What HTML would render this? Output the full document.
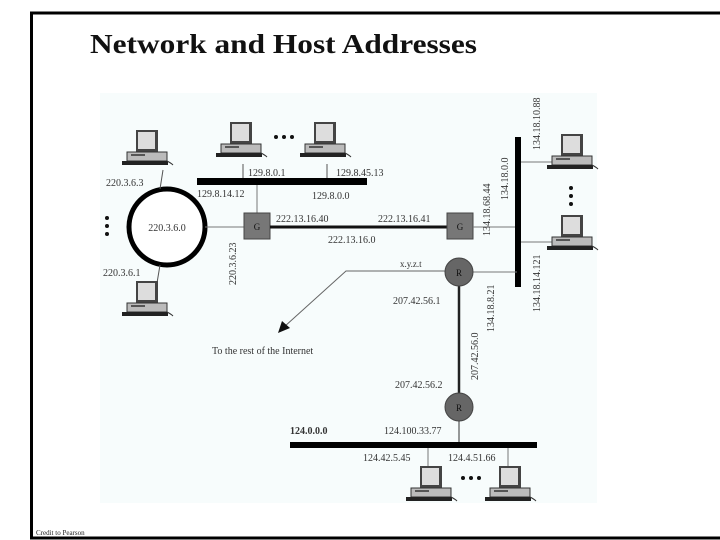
<!DOCTYPE html>
<html><head><meta charset="utf-8"><style>
html,body{margin:0;padding:0;background:#fff;width:720px;height:540px;overflow:hidden}
svg{display:block}
text{font-family:"Liberation Serif",serif;fill:#333}
</style></head><body>
<svg width="720" height="540" viewBox="0 0 720 540" xmlns="http://www.w3.org/2000/svg">
<defs>
<g id="pc">
  <rect x="-10" y="-2" width="22" height="22" fill="#444"/>
  <rect x="-8" y="0" width="17" height="17" fill="#ddd"/>
  <rect x="-19" y="20" width="40" height="9" fill="#bbb" stroke="#333" stroke-width="1"/>
  <rect x="-15" y="22" width="14" height="2" fill="#555"/>
  <rect x="-24" y="29" width="46" height="4" fill="#222"/>
  <path d="M21 29 q4 2 6 4" stroke="#333" fill="none"/>
</g>
</defs>
<rect x="31.5" y="13" width="700" height="525" fill="none" stroke="#000" stroke-width="3"/>
<text x="90" y="53" font-size="27" font-weight="bold" textLength="387" lengthAdjust="spacingAndGlyphs" style="fill:#111">Network and Host Addresses</text>
<rect x="100" y="93" width="497" height="410" fill="#f7fcfc"/>

<!-- ring -->
<circle cx="167" cy="227" r="38" fill="#fff" stroke="#000" stroke-width="5"/>
<text x="167" y="231" font-size="10" text-anchor="middle">220.3.6.0</text>
<line x1="163" y1="170" x2="160" y2="189" stroke="#555"/>
<line x1="160" y1="265" x2="157" y2="283" stroke="#555"/>
<use href="#pc" x="146" y="132"/>
<use href="#pc" x="146" y="283"/>
<text x="106" y="186" font-size="10">220.3.6.3</text>
<text x="103" y="276" font-size="10">220.3.6.1</text>
<circle cx="107" cy="218" r="2" fill="#111"/>
<circle cx="107" cy="226" r="2" fill="#111"/>
<circle cx="107" cy="234" r="2" fill="#111"/>

<!-- top bus -->
<rect x="197" y="178" width="170" height="7" fill="#000"/>
<line x1="243" y1="164" x2="243" y2="178" stroke="#555"/>
<line x1="327" y1="164" x2="327" y2="178" stroke="#555"/>
<use href="#pc" x="240" y="124"/>
<use href="#pc" x="324" y="124"/>
<circle cx="276" cy="137" r="2" fill="#111"/>
<circle cx="284" cy="137" r="2" fill="#111"/>
<circle cx="292" cy="137" r="2" fill="#111"/>
<text x="248" y="176" font-size="10">129.8.0.1</text>
<text x="336" y="176" font-size="10">129.8.45.13</text>
<text x="197" y="197" font-size="10">129.8.14.12</text>
<text x="312" y="199" font-size="10">129.8.0.0</text>

<!-- G1 -->
<line x1="257" y1="185" x2="257" y2="213" stroke="#777"/>
<line x1="205" y1="227" x2="244" y2="227" stroke="#777"/>
<rect x="244" y="213" width="26" height="26" fill="#777" stroke="#444"/>
<text x="257" y="230" font-size="9" text-anchor="middle" style="fill:#111">G</text>
<text transform="translate(236,285) rotate(-90)" font-size="10">220.3.6.23</text>
<line x1="270" y1="227" x2="447" y2="227" stroke="#111" stroke-width="3"/>
<text x="276" y="222" font-size="10">222.13.16.40</text>
<text x="378" y="222" font-size="10">222.13.16.41</text>
<text x="328" y="243" font-size="10">222.13.16.0</text>

<!-- G2 -->
<rect x="447" y="213" width="26" height="26" fill="#777" stroke="#444"/>
<text x="460" y="230" font-size="9" text-anchor="middle" style="fill:#111">G</text>
<line x1="473" y1="227" x2="517" y2="227" stroke="#777"/>

<!-- right bus -->
<rect x="515" y="137" width="6" height="150" fill="#000"/>
<text transform="translate(490,236) rotate(-90)" font-size="10">134.18.68.44</text>
<text transform="translate(508,200) rotate(-90)" font-size="10">134.18.0.0</text>
<text transform="translate(540,150) rotate(-90)" font-size="10">134.18.10.88</text>
<text transform="translate(540,312) rotate(-90)" font-size="10">134.18.14.121</text>
<text transform="translate(494,332) rotate(-90)" font-size="10">134.18.8.21</text>
<line x1="521" y1="162" x2="556" y2="162" stroke="#777"/>
<line x1="521" y1="242" x2="556" y2="242" stroke="#777"/>
<use href="#pc" x="571" y="136"/>
<use href="#pc" x="571" y="217"/>
<circle cx="571" cy="188" r="2" fill="#111"/>
<circle cx="571" cy="196" r="2" fill="#111"/>
<circle cx="571" cy="204" r="2" fill="#111"/>

<!-- R -->
<line x1="459" y1="272" x2="517" y2="272" stroke="#777"/>
<polyline points="445,271 346,271 284,327" fill="none" stroke="#666"/>
<polygon points="278,333 282,321 290,328" fill="#111"/>
<text x="400" y="267" font-size="9">x.y.z.t</text>
<line x1="459" y1="272" x2="459" y2="407" stroke="#222" stroke-width="2.5"/>
<circle cx="459" cy="272" r="14" fill="#666" stroke="#444"/>
<text x="459" y="276" font-size="9" text-anchor="middle" style="fill:#111">R</text>
<circle cx="459" cy="407" r="14" fill="#666" stroke="#444"/>
<text x="459" y="411" font-size="9" text-anchor="middle" style="fill:#111">R</text>
<line x1="459" y1="421" x2="459" y2="443" stroke="#333"/>
<text x="393" y="304" font-size="10">207.42.56.1</text>
<text transform="translate(478,380) rotate(-90)" font-size="10">207.42.56.0</text>
<text x="395" y="388" font-size="10">207.42.56.2</text>
<text x="212" y="354" font-size="10">To the rest of the Internet</text>

<!-- bottom bus -->
<rect x="290" y="442" width="247" height="6" fill="#000"/>
<text x="290" y="434" font-size="10" font-weight="bold">124.0.0.0</text>
<text x="384" y="434" font-size="10">124.100.33.77</text>
<line x1="428" y1="448" x2="428" y2="468" stroke="#777"/>
<line x1="508" y1="448" x2="508" y2="468" stroke="#777"/>
<text x="363" y="461" font-size="10">124.42.5.45</text>
<text x="448" y="461" font-size="10">124.4.51.66</text>
<use href="#pc" x="430" y="468"/>
<use href="#pc" x="509" y="468"/>
<circle cx="463" cy="478" r="2" fill="#111"/>
<circle cx="471" cy="478" r="2" fill="#111"/>
<circle cx="479" cy="478" r="2" fill="#111"/>

<text x="36" y="535" font-size="7" style="fill:#222">Credit to Pearson</text>
</svg>
</body></html>
